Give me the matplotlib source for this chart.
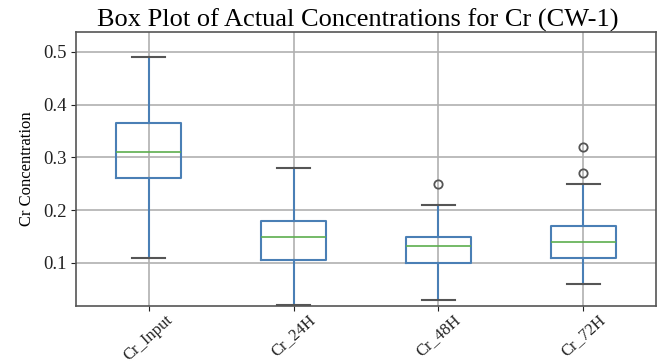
import matplotlib.pyplot as plt

labels = ["Cr_Input", "Cr_24H", "Cr_48H", "Cr_72H"]
whislo = [0.11, 0.02, 0.03, 0.06]
q1 = [0.26, 0.106, 0.10, 0.11]
med = [0.31, 0.149, 0.132, 0.14]
q3 = [0.365, 0.18, 0.149, 0.17]
whishi = [0.49, 0.28, 0.21, 0.25]
fliers = [[], [], [0.25], [0.27, 0.32]]

plt.rcParams['font.family'] = ['Liberation Serif', 'DejaVu Serif']

stats = []
for i in range(len(labels)):
    stats.append({"label": labels[i], "whislo": whislo[i], "q1": q1[i], "med": med[i],
                  "q3": q3[i], "whishi": whishi[i], "fliers": fliers[i]})

fig = plt.figure(figsize=(6.63, 3.63), dpi=100)
ax = fig.add_axes([0.115, 0.157, 0.874, 0.755])

ax.bxp(stats, widths=0.45,
       boxprops=dict(color='#4a7fb5', linewidth=1.5),
       whiskerprops=dict(color='#4a7fb5', linewidth=1.5),
       medianprops=dict(color='#5cae4e', linewidth=1.2),
       capprops=dict(color='#555555', linewidth=1.5),
       flierprops=dict(marker='o', markerfacecolor='none', markeredgecolor='#555555',
                       markersize=6, markeredgewidth=1.3))

ax.set_xlim(0.5, 4.5)
ax.set_ylim(0.018, 0.538)
ax.set_yticks([0.1, 0.2, 0.3, 0.4, 0.5])
ax.grid(True, color='#b0b0b0', linewidth=1.2)
ax.set_axisbelow(True)
for s in ax.spines.values():
    s.set_color('#555555')
    s.set_linewidth(1.2)

ax.tick_params(axis='y', labelsize=13.5, colors='#222222')
ax.tick_params(axis='x', labelsize=12, colors='#222222', pad=1)
plt.setp(ax.get_xticklabels(), rotation=42, ha='center')
ax.set_ylabel("Cr Concentration", fontsize=12, labelpad=6)
ax.set_title("Box Plot of Actual Concentrations for Cr (CW-1)", fontsize=19, pad=3, x=0.485)

fig.savefig("out.png")
